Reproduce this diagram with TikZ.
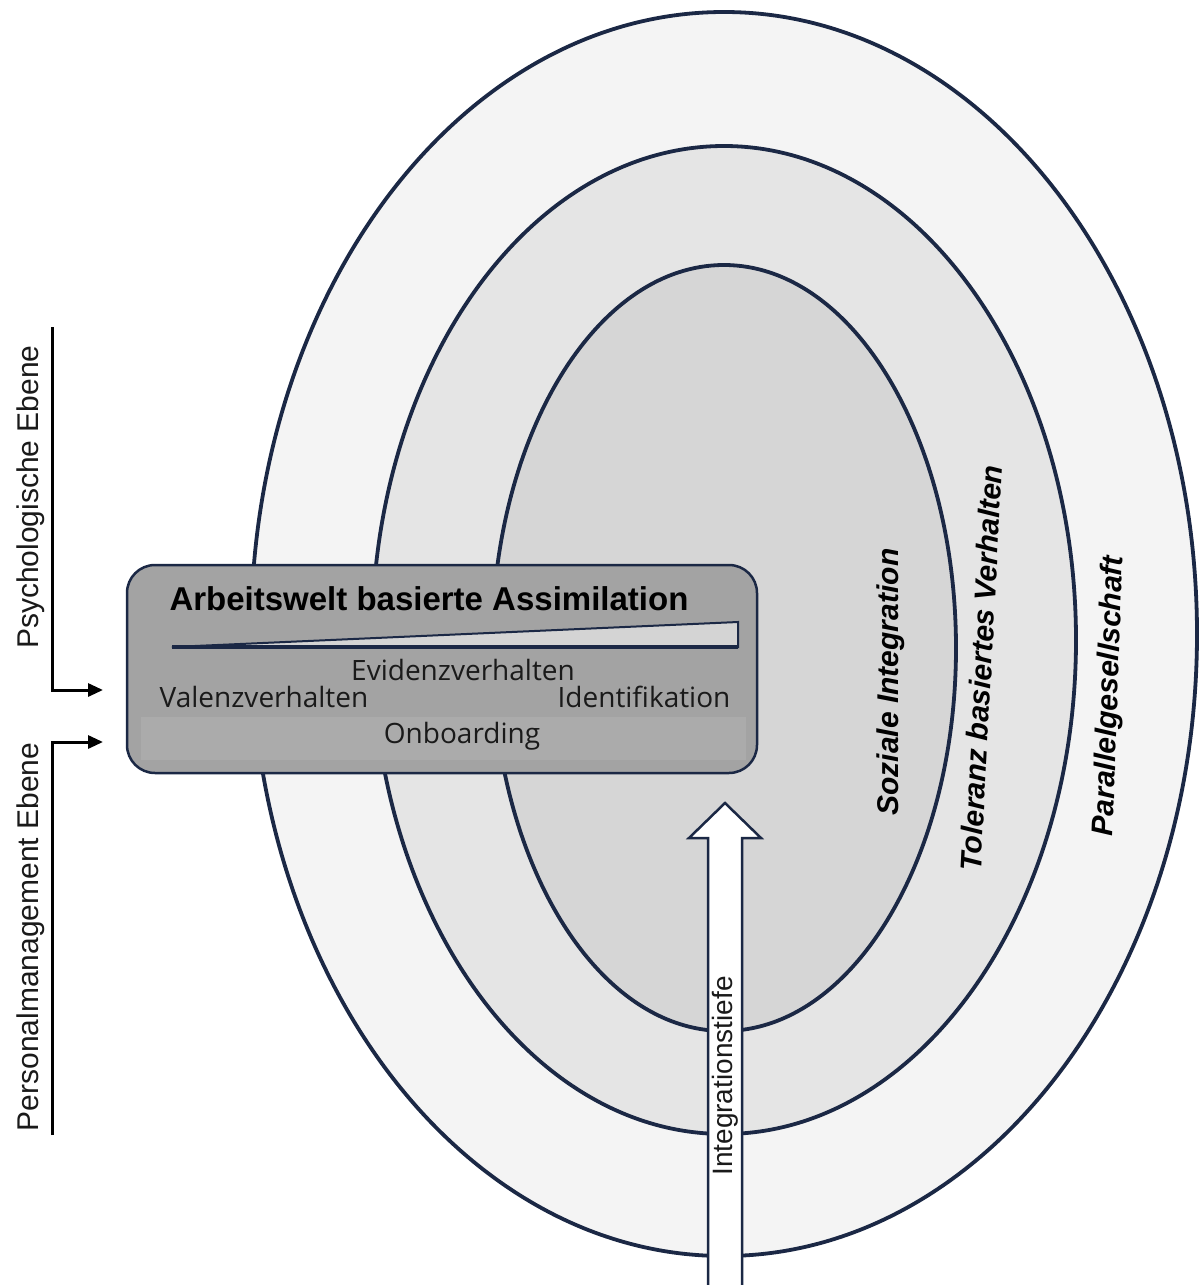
\documentclass[tikz,border=0pt]{standalone}
\usepackage{fontspec}
\setmainfont{Liberation Sans}
\newfontfamily\osans{Open Sans}
\usetikzlibrary{arrows.meta}
\definecolor{navy}{HTML}{1B2845}
\definecolor{ringA}{HTML}{F4F4F4}
\definecolor{ringB}{HTML}{E5E5E5}
\definecolor{ringC}{HTML}{D6D6D6}
\definecolor{boxfill}{HTML}{A3A3A3}
\definecolor{stripfill}{HTML}{ABABAB}
\definecolor{wedgefill}{HTML}{D4D4D4}
\definecolor{txt}{HTML}{1A1A1A}
\tikzset{
  ring/.style={draw=navy, line width=3.8pt},
  ringlabel/.style={font=\fontsize{30}{36}\selectfont\bfseries\itshape, text=black, inner sep=0pt},
  sidelabel/.style={font=\fontsize{30}{36}\selectfont, text=txt, inner sep=0pt, rotate=90},
  boxtext/.style={font=\osans\fontsize{28}{34}\selectfont, text=txt, inner sep=0pt, anchor=base},
  bracket/.style={draw=black, line width=3pt, -{Triangle[length=15pt,width=13pt]}},
}
\begin{document}
\begin{tikzpicture}[x=1pt,y=-1pt]
\useasboundingbox (0,0) rectangle (1202,1285);
\fill[white] (0,0) rectangle (1202,1285);

% rings
\draw[ring, fill=ringA] (724,634) ellipse [x radius=473, y radius=622];
\draw[ring, fill=ringB] (724,640) ellipse [x radius=352, y radius=494];
\draw[ring, fill=ringC] (724,648) ellipse [x radius=232, y radius=383];

% ring labels
\node[ringlabel, rotate=90] (soz) at (891,682) {Soziale Integration};
\node[ringlabel, rotate=87] (tol) at (981,668) {Toleranz basiertes Verhalten};
\node[ringlabel, rotate=88] (par) at (1110,696) {Parallelgesellschaft};

% integration arrow
\draw[navy, line width=2.5pt, fill=white, line join=miter]
  (708,1300) -- (708,838) -- (689,838) -- (725,803) -- (761,838) -- (742,838) -- (742,1300) -- cycle;
\node[sidelabel, font=\fontsize{28}{34}\selectfont] (tiefe) at (725,1076) {Integrationstiefe};

% central box
\node[draw=navy, fill=boxfill, rounded corners=28pt, line width=2.5pt,
      minimum width=630pt, minimum height=208pt, inner sep=0pt] (box) at (442,669) {};
\fill[stripfill] (141,717) rectangle (746,760);
\node[font=\fontsize{33}{40}\selectfont\bfseries, text=black, inner sep=0pt, anchor=base] (title) at (429,610) {Arbeitswelt basierte Assimilation};
\draw[navy, line width=2pt, fill=wedgefill, line join=miter] (172,647) -- (738,622) -- (738,647) -- cycle;
\draw[navy, line width=3.5pt] (172,647) -- (738,647);
\node[boxtext] (evi) at (463,680) {Evidenzverhalten};
\node[boxtext] (val) at (264,707) {Valenzverhalten};
\node[boxtext] (ide) at (644,707) {Identifikation};
\node[boxtext] (onb) at (462,743) {Onboarding};

% side labels and brackets
\node[sidelabel] (psy) at (31,497) {Psychologische Ebene};
\node[sidelabel] (pers) at (31,937) {Personalmanagement Ebene};
\coordinate (psyTop) at (52,327);
\coordinate (psyEnd) at (103,690);
\coordinate (persBot) at (52,1135);
\coordinate (persEnd) at (103,742);
\draw[bracket] (psyTop) |- (psyEnd);
\draw[bracket] (persBot) |- (persEnd);
\end{tikzpicture}
\end{document}
